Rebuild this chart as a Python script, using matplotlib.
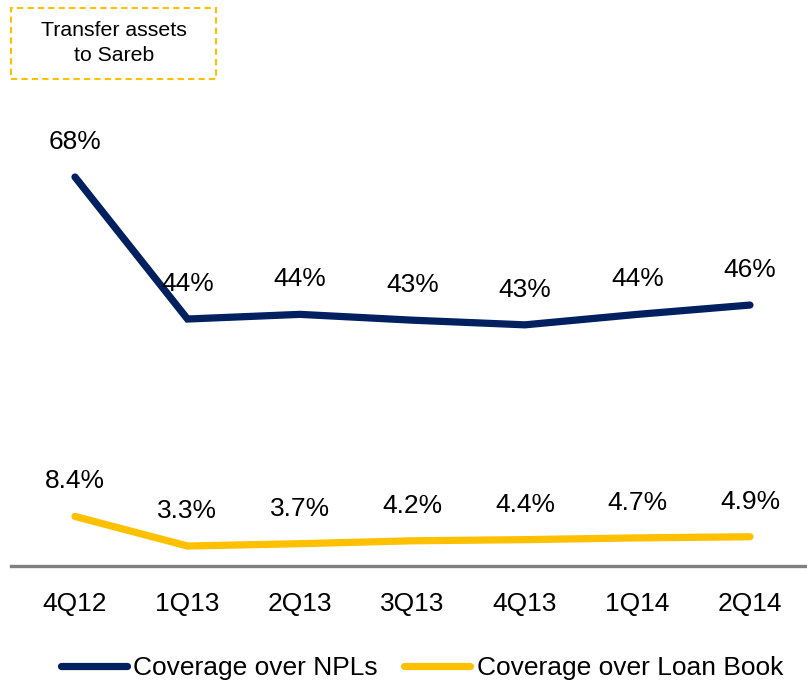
import matplotlib
matplotlib.use("Agg")
import matplotlib.pyplot as plt
from matplotlib.patches import Rectangle

quarters = ["4Q12", "1Q13", "2Q13", "3Q13", "4Q13", "1Q14", "2Q14"]
npl_coverage = [68.0, 43.6, 44.4, 43.4, 42.6, 44.4, 46.0]
loan_coverage = [8.4, 3.3, 3.7, 4.2, 4.4, 4.7, 4.9]

navy = "#002060"
gold = "#FFC000"

plt.rcParams['font.family'] = ['Liberation Sans', 'DejaVu Sans']

fig = plt.figure(figsize=(8.07, 6.94), dpi=100)
ax = fig.add_axes([0.0136, 0.1844, 0.9864, 0.6715])
ax2 = ax.twinx()

x = list(range(len(quarters)))
l1, = ax.plot(x, npl_coverage, color=navy, lw=5.2, solid_capstyle='round',
              solid_joinstyle='miter', label="Coverage over NPLs")
l2, = ax2.plot(x, loan_coverage, color=gold, lw=5.2, solid_capstyle='round',
               solid_joinstyle='miter', label="Coverage over Loan Book")

ax.set_ylim(1.16, 81.23)
ax2.set_ylim(-0.15, 80.2)
ax.set_xlim(-0.569, 6.507)

for i, v in enumerate(npl_coverage):
    ax.annotate(f"{v:.0f}%", (i, v), xytext=(0, 35), textcoords='offset pixels',
                ha='center', va='center', fontsize=19, color='black')
for i, v in enumerate(loan_coverage):
    ax2.annotate(f"{v:.1f}%", (i, v), xytext=(0, 35), textcoords='offset pixels',
                 ha='center', va='center', fontsize=19, color='black')

for a in (ax, ax2):
    for s in ['top', 'right', 'left', 'bottom']:
        a.spines[s].set_visible(False)
    a.set_yticks([])
ax.spines['bottom'].set_visible(True)
ax.spines['bottom'].set_color('#808080')
ax.spines['bottom'].set_linewidth(2.4)

ax.set_xticks(x)
ax.set_xticklabels(quarters, fontsize=19)
ax.tick_params(axis='x', length=0, pad=19)

# dashed note box, top left
W, H = 807, 694
fig.patches.append(Rectangle((11 / W, 1 - 79 / H), 205 / W, 71 / H,
                             transform=fig.transFigure, fill=False,
                             ec=gold, lw=1.5, ls=(0, (3, 2))))
fig.text(114 / W, 1 - 43 / H, "Transfer assets\nto Sareb", ha='center',
         va='center', fontsize=15.3, linespacing=1.35)

fig.legend(handles=[l1, l2], loc='center', bbox_to_anchor=(0.523, 0.0375),
           ncol=2, frameon=False, fontsize=19, handlelength=2.5,
           handletextpad=0.25, columnspacing=1.0)

fig.savefig("out.png", dpi=100)
